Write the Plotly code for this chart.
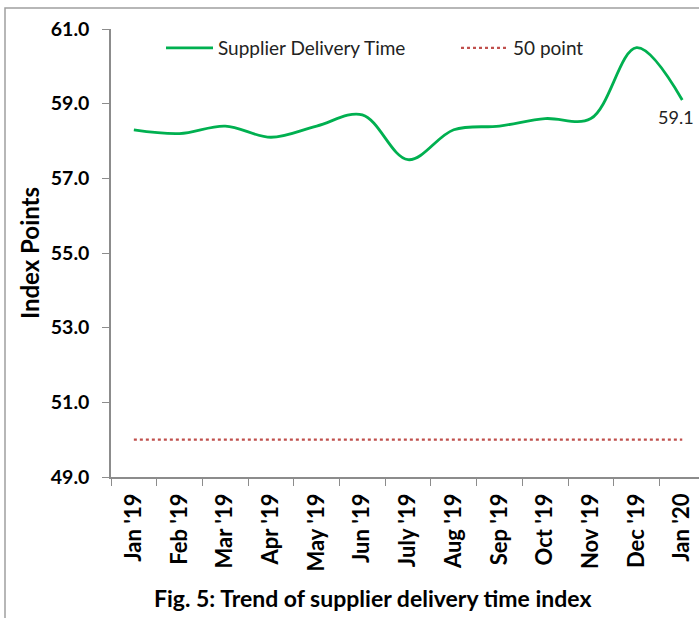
import plotly.graph_objects as go

months = ["Jan '19", "Feb '19", "Mar '19", "Apr '19", "May '19", "Jun '19", "July '19",
          "Aug '19", "Sep '19", "Oct '19", "Nov '19", "Dec '19", "Jan '20"]
supplier_delivery = [58.3, 58.2, 58.4, 58.1, 58.4, 58.7, 57.5, 58.3, 58.4, 58.6, 58.6, 60.5, 59.1]
fifty_point = [50.0] * len(months)

W, H = 699, 618
L, R, T, B = 111, 0, 29, 141
pw, ph = W - L - R, H - T - B
font = "Lato, 'Open Sans', sans-serif"


def px(x):
    return (x - L) / pw


def py(y):
    return (H - B - y) / ph


fig = go.Figure()
fig.add_trace(go.Scatter(x=months, y=supplier_delivery, mode="lines", name="Supplier Delivery Time",
                         legend="legend",
                         line=dict(color="#00B050", width=2.8, shape="spline", smoothing=1.0)))
fig.add_trace(go.Scatter(x=months, y=fifty_point, mode="lines", name="50 point", legend="legend2",
                         line=dict(color="#C0504D", width=2.2, dash="dot")))

fig.add_annotation(x=months[-1], y=supplier_delivery[-1], text="%.1f" % supplier_delivery[-1],
                   showarrow=False, xshift=-6, yshift=-17,
                   font=dict(family=font, size=18, color="#222"))

fig.add_annotation(xref="paper", yref="paper", x=px(372), y=py(598), yanchor="middle",
                   text="<b>Fig. 5: Trend of supplier delivery time index</b>", showarrow=False,
                   font=dict(family=font, size=23, color="#000"))

fig.add_shape(type="rect", xref="paper", yref="paper",
              x0=px(5), x1=px(760), y0=py(700), y1=py(8),
              line=dict(color="#A0A0A0", width=1.5), fillcolor="rgba(0,0,0,0)", layer="below")

leg_common = dict(orientation="h", xanchor="left", yanchor="middle", itemwidth=47,
                  font=dict(family=font, size=19, color="#222"), bgcolor="rgba(0,0,0,0)")

fig.update_layout(
    width=W, height=H, margin=dict(l=L, r=R, t=T, b=B),
    paper_bgcolor="white", plot_bgcolor="white",
    font=dict(family=font, color="#000"),
    showlegend=True,
    legend=dict(x=px(161), y=py(48), **leg_common),
    legend2=dict(x=px(456), y=py(48), **leg_common),
    xaxis=dict(type="category", range=[-0.5, -0.5 + pw / 45.7], tickson="boundaries",
               ticks="outside", ticklen=7, tickcolor="#8C8C8C", showline=True, linecolor="#8C8C8C",
               linewidth=1.5, showgrid=False, tickangle=-90, ticklabelstandoff=6,
               tickfont=dict(family=font, size=22, color="#000", weight="bold")),
    yaxis=dict(range=[49, 61], dtick=2, tick0=49, tickformat=".1f", ticks="outside", ticklen=7,
               tickcolor="#8C8C8C", showline=True, linecolor="#8C8C8C", linewidth=1.5, showgrid=False,
               zeroline=False, ticklabelstandoff=9,
               tickfont=dict(family=font, size=19.5, color="#000", weight="bold"),
               title=dict(text="<b>Index Points</b>", standoff=4,
                          font=dict(family=font, size=24, color="#000"))),
)

fig.write_html("out.html", config={"displayModeBar": False},
               post_script="document.body.style.margin='0px';")
